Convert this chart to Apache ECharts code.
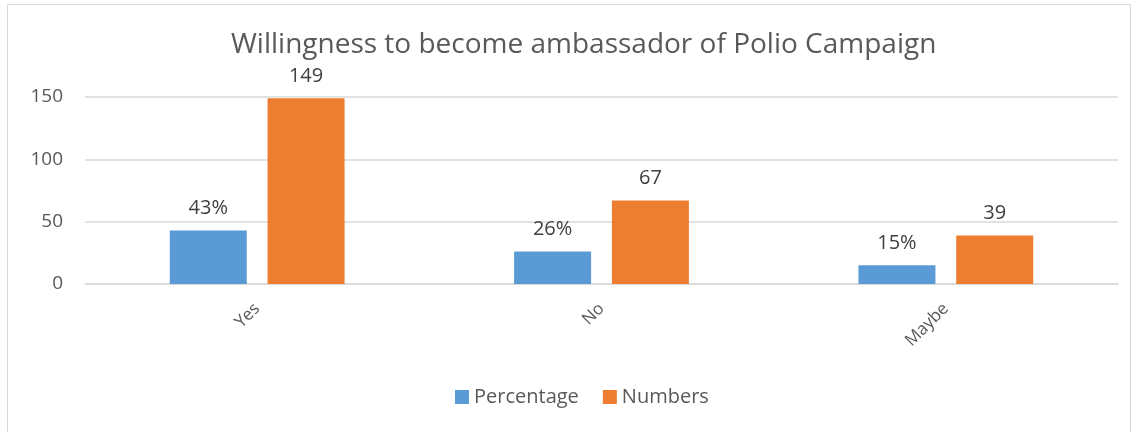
<!DOCTYPE html>
<html>
<head>
<meta charset="utf-8">
<style>
  html, body { margin: 0; padding: 0; background: #fff; }
  #chart { width: 1138px; height: 432px; }
</style>
<script src="https://cdn.jsdelivr.net/npm/echarts@6/dist/echarts.min.js"></script>
</head>
<body>
<div id="chart"></div>
<script>
var categories = ['Yes', 'No', 'Maybe'];
var percentage = [43, 26, 15];
var numbers = [149, 67, 39];
var yTicks = [0, 50, 100, 150];

var myChart = echarts.init(document.getElementById('chart'));
var font = 'Open Sans';
var option = {
	textStyle: { fontFamily: font },
	graphic: [{
		type: 'rect',
		shape: { x: 7.5, y: 4.5, width: 1123, height: 440 },
		style: { fill: 'none', stroke: '#d9d9d9', lineWidth: 1 },
		silent: true
	}],
	title: {
		text: 'Willingness to become ambassador of Polio Campaign',
		left: 226,
		top: 26,
		textStyle: { fontFamily: font, fontSize: 28, fontWeight: 'normal', color: '#595959' }
	},
	legend: {
		bottom: 20,
		left: 450,
		itemWidth: 14,
		itemHeight: 14,
		itemGap: 24,
		icon: 'rect',
		textStyle: { fontFamily: font, fontSize: 20, color: '#595959' },
		data: ['Percentage', 'Numbers']
	},
	grid: { left: 85, right: 20, top: 97, bottom: 148 },
	xAxis: {
		type: 'category',
		data: categories,
		axisLine: { lineStyle: { color: '#d9d9d9', width: 1.5 } },
		axisTick: { show: false },
		axisLabel: { rotate: 45, fontFamily: font, fontSize: 17, color: '#595959', margin: 22 }
	},
	yAxis: {
		type: 'value',
		min: yTicks[0],
		max: yTicks[yTicks.length - 1],
		interval: 50,
		axisLine: { show: false },
		axisTick: { show: false },
		axisLabel: { fontFamily: font, fontSize: 19, color: '#595959', margin: 22 },
		splitLine: { lineStyle: { color: '#d9d9d9', width: 1.5 } }
	},
	series: [{
		name: 'Percentage',
		type: 'bar',
		barWidth: 77,
		barGap: '27%',
		itemStyle: { color: '#5b9bd5' },
		label: {
			show: true, position: 'top', distance: 12,
			fontFamily: font, fontSize: 20, color: '#404040',
			formatter: function(p) { return p.value + '%'; }
		},
		data: percentage
	}, {
		name: 'Numbers',
		type: 'bar',
		barWidth: 77,
		itemStyle: { color: '#ed7d31' },
		label: {
			show: true, position: 'top', distance: 12,
			fontFamily: font, fontSize: 20, color: '#404040'
		},
		data: numbers
	}]
};
myChart.setOption(option);
</script>
</body>
</html>
